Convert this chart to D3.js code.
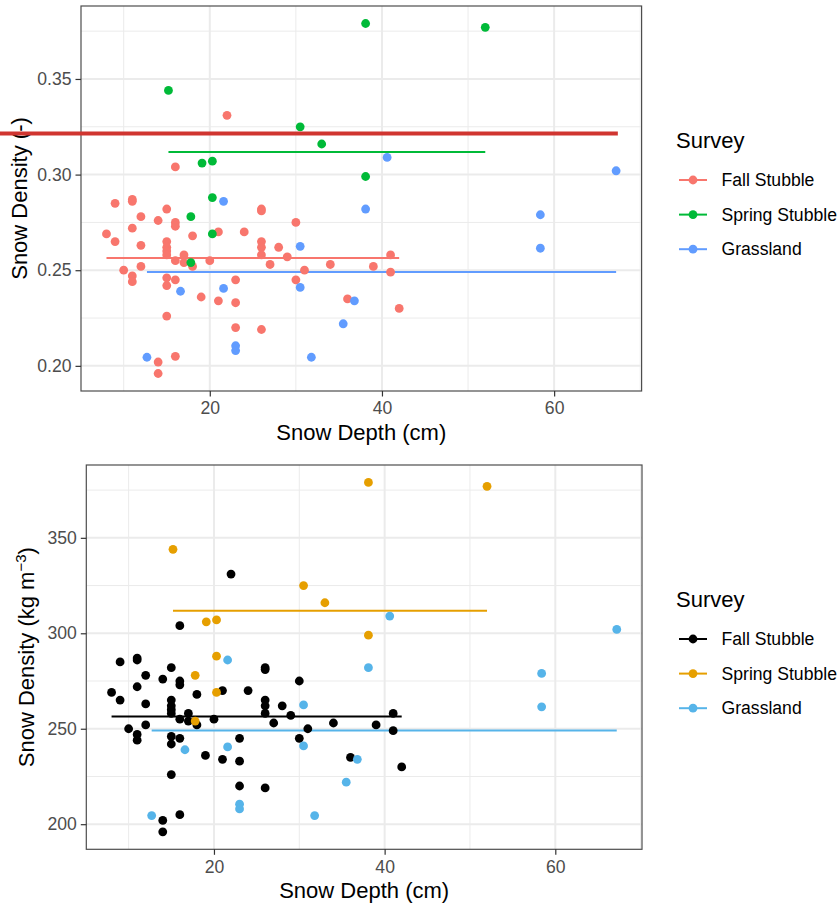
<!DOCTYPE html>
<html>
<head>
<meta charset="utf-8">
<script src="https://cdn.jsdelivr.net/npm/d3@7"></script>
<style>
  body { margin: 0; background: #ffffff; }
  svg { display: block; font-family: "Liberation Sans", Arial, Helvetica, sans-serif; }
</style>
</head>
<body>
<svg id="chart" width="839" height="907"></svg>
<script>
// ---- Data: snow depth (cm) and snow density (fraction of water) per survey ----
const surveys = ["Fall Stubble", "Spring Stubble", "Grassland"];

const fallDepth = [22, 16, 9, 11, 11, 15, 26, 26, 12, 14, 16, 16, 30, 8, 11, 21, 24, 18, 9, 12,
                   15, 15, 15, 15, 17, 26, 26, 26, 28, 29, 41, 16, 17, 18, 20, 27, 34, 39, 10, 12,
                   31, 41, 11, 11, 15, 15, 16, 23, 30, 19, 21, 23, 36, 42, 15, 23, 26, 16, 14, 14];
const fallDensity = [0.331, 0.304, 0.285, 0.287, 0.286, 0.282, 0.282, 0.281, 0.278, 0.276,
                     0.275, 0.273, 0.275, 0.269, 0.272, 0.270, 0.270, 0.268, 0.265, 0.263,
                     0.265, 0.262, 0.260, 0.258, 0.258, 0.265, 0.262, 0.258, 0.262, 0.257,
                     0.258, 0.255, 0.254, 0.252, 0.255, 0.253, 0.253, 0.252, 0.250, 0.252,
                     0.250, 0.249, 0.247, 0.244, 0.246, 0.242, 0.245, 0.245, 0.245, 0.236,
                     0.234, 0.233, 0.235, 0.230, 0.226, 0.220, 0.219, 0.205, 0.202, 0.196];

const springDepth = [15.2, 30.5, 33, 38.1, 19.1, 20.3, 38.1, 20.3, 17.8, 20.3, 17.8, 52];
const springDensity = [0.344, 0.325, 0.316, 0.379, 0.306, 0.307, 0.299, 0.288, 0.278, 0.269, 0.254, 0.377];

const grassDepth = [40.6, 21.6, 38.1, 67.2, 58.4, 58.4, 30.5, 16.6, 21.6, 30.5, 36.8, 35.5, 23, 23, 12.7, 31.8];
const grassDensity = [0.309, 0.286, 0.282, 0.302, 0.279, 0.2615, 0.2625, 0.239, 0.2405, 0.241,
                      0.234, 0.222, 0.2105, 0.208, 0.2045, 0.2045];

// highlighted reference level drawn across the upper panel
const highlightDensity = 0.3215;
const highlightDepthEnd = 67.4;

// ---- Axis breaks ----
const depthTicks = [20, 40, 60];
const depthMinor = [10, 30, 50, 70];
const fractionTicks = [0.20, 0.25, 0.30, 0.35];
const fractionMinor = [0.225, 0.275, 0.325, 0.375];
const kgTicks = [200, 250, 300, 350];
const kgMinor = [225, 275, 325, 375];

// ---- Palettes ----
const fractionColors = ["#F8766D", "#00BA38", "#619CFF"];
const kgColors = ["#000000", "#E69F00", "#56B4E9"];

const depthSets = [fallDepth, springDepth, grassDepth];
const densitySets = [fallDensity, springDensity, grassDensity];

const svg = d3.select("#chart");
const TICK_FONT = 17.6, TITLE_FONT = 22;

function expanded(values) {
  const [lo, hi] = d3.extent(values);
  const pad = (hi - lo) * 0.05;
  return [lo - pad, hi + pad];
}

function drawPanel(cfg) {
  const { left, right, top, bottom } = cfg.box;
  const g = svg.append("g");

  const x = d3.scaleLinear().domain(expanded(depthSets.flat())).range([left, right]);
  const y = d3.scaleLinear()
    .domain(expanded(densitySets.flat().map(v => v * cfg.factor)))
    .range([bottom, top]);

  const inX = d => d >= x.domain()[0] && d <= x.domain()[1];
  const inY = d => d >= y.domain()[0] && d <= y.domain()[1];

  // panel background + grid
  g.append("rect").attr("x", left).attr("y", top)
    .attr("width", right - left).attr("height", bottom - top).attr("fill", "#ffffff");

  g.append("g").selectAll("line").data(depthMinor.filter(inX)).join("line")
    .attr("x1", d => x(d)).attr("x2", d => x(d)).attr("y1", top).attr("y2", bottom)
    .attr("stroke", "#EBEBEB").attr("stroke-width", 1);
  g.append("g").selectAll("line").data(cfg.yMinor.filter(inY)).join("line")
    .attr("y1", d => y(d)).attr("y2", d => y(d)).attr("x1", left).attr("x2", right)
    .attr("stroke", "#EBEBEB").attr("stroke-width", 1);
  g.append("g").selectAll("line").data(depthTicks).join("line")
    .attr("x1", d => x(d)).attr("x2", d => x(d)).attr("y1", top).attr("y2", bottom)
    .attr("stroke", "#EBEBEB").attr("stroke-width", 2);
  g.append("g").selectAll("line").data(cfg.yTicks).join("line")
    .attr("y1", d => y(d)).attr("y2", d => y(d)).attr("x1", left).attr("x2", right)
    .attr("stroke", "#EBEBEB").attr("stroke-width", 2);

  // survey mean segments spanning each survey's depth range
  surveys.forEach((s, i) => {
    const [d0, d1] = d3.extent(depthSets[i]);
    const m = d3.mean(densitySets[i]) * cfg.factor;
    g.append("line")
      .attr("x1", x(d0)).attr("x2", x(d1)).attr("y1", y(m)).attr("y2", y(m))
      .attr("stroke", cfg.colors[i]).attr("stroke-width", 2);
  });

  // observations
  surveys.forEach((s, i) => {
    const pts = depthSets[i].map((d, j) => ({ d, v: densitySets[i][j] * cfg.factor }));
    g.append("g").selectAll("circle").data(pts).join("circle")
      .attr("cx", p => x(p.d)).attr("cy", p => y(p.v)).attr("r", 4.4)
      .attr("fill", cfg.colors[i]);
  });

  // panel border
  g.append("rect").attr("x", left).attr("y", top)
    .attr("width", right - left).attr("height", bottom - top)
    .attr("fill", "none").attr("stroke", "#4d4d4d").attr("stroke-width", 1.2);

  // axes
  const xAxis = g.append("g").attr("transform", `translate(0,${bottom})`)
    .call(d3.axisBottom(x).tickValues(depthTicks).tickSize(5.5).tickPadding(5.5));
  const yAxis = g.append("g").attr("transform", `translate(${left},0)`)
    .call(d3.axisLeft(y).tickValues(cfg.yTicks).tickFormat(cfg.yFormat).tickSize(5.5).tickPadding(4));
  [xAxis, yAxis].forEach(a => {
    a.select(".domain").remove();
    a.selectAll(".tick line").attr("stroke", "#333333").attr("stroke-width", 1.2);
    a.selectAll(".tick text").attr("fill", "#4D4D4D")
      .style("font-size", TICK_FONT + "px").style("font-family", "inherit");
  });

  // axis titles
  g.append("text").attr("x", (left + right) / 2).attr("y", cfg.xTitleY)
    .attr("text-anchor", "middle").attr("fill", "#000").style("font-size", TITLE_FONT + "px")
    .text("Snow Depth (cm)");
  const yt = g.append("text")
    .attr("transform", `translate(${cfg.yTitleX},${(top + bottom) / 2}) rotate(-90)`)
    .attr("text-anchor", "middle").attr("fill", "#000").style("font-size", TITLE_FONT + "px");
  cfg.yTitle(yt);

  // legend
  const L = cfg.legend;
  const lg = g.append("g");
  lg.append("text").attr("x", L.x).attr("y", L.titleY).attr("fill", "#000")
    .style("font-size", TITLE_FONT + "px").text("Survey");
  surveys.forEach((s, i) => {
    const cy = L.firstY + i * L.step;
    lg.append("line").attr("x1", L.x + 3).attr("x2", L.x + 31).attr("y1", cy).attr("y2", cy)
      .attr("stroke", cfg.colors[i]).attr("stroke-width", 2);
    lg.append("circle").attr("cx", L.x + 17).attr("cy", cy).attr("r", 4.4).attr("fill", cfg.colors[i]);
    lg.append("text").attr("x", L.x + 45.5).attr("y", cy + 6).attr("fill", "#000")
      .style("font-size", TICK_FONT + "px").text(s);
  });

  return { g, x, y };
}

// upper panel: density as a fraction
const upper = drawPanel({
  box: { left: 81, right: 641.6, top: 6, bottom: 391 },
  factor: 1,
  yTicks: fractionTicks,
  yMinor: fractionMinor,
  yFormat: d3.format(".2f"),
  colors: fractionColors,
  xTitleY: 440,
  yTitleX: 27,
  yTitle: t => t.text("Snow Density (-)"),
  legend: { x: 676, titleY: 148, firstY: 180, step: 34.6 }
});

// highlighted level across the upper panel
upper.g.append("line")
  .attr("x1", 0).attr("x2", upper.x(highlightDepthEnd))
  .attr("y1", upper.y(highlightDensity)).attr("y2", upper.y(highlightDensity))
  .attr("stroke", "#D03530").attr("stroke-width", 4);

// lower panel: density in kg m^-3
drawPanel({
  box: { left: 86.3, right: 642, top: 465, bottom: 849.3 },
  factor: 1000,
  yTicks: kgTicks,
  yMinor: kgMinor,
  yFormat: d3.format("d"),
  colors: kgColors,
  xTitleY: 898,
  yTitleX: 33.5,
  yTitle: t => {
    t.append("tspan").text("Snow Density (kg m");
    t.append("tspan").attr("dy", -8).style("font-size", "15px").text("\u22123");
    t.append("tspan").attr("dy", 8).text(")");
  },
  legend: { x: 676, titleY: 607, firstY: 639, step: 34.6 }
});
</script>
</body>
</html>
